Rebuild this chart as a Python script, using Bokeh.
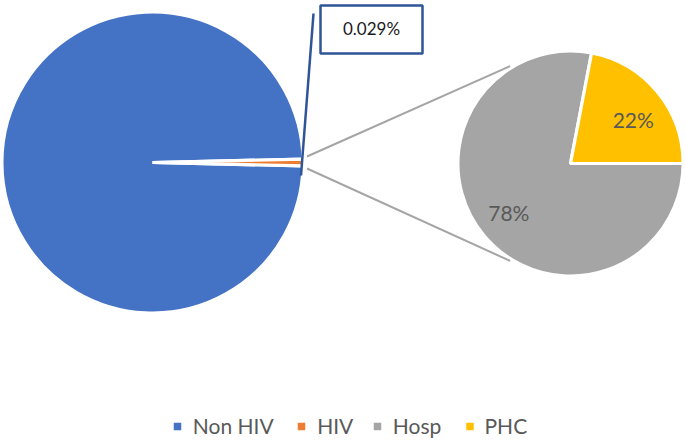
import math
from bokeh.plotting import figure
from bokeh.models import Range1d
from bokeh.core.properties import value
from bokeh.embed import file_html
from bokeh.resources import INLINE

# ---- data ----
main_categories = ["Non HIV", "HIV"]
main_values = [99.3, 0.7]          # drawn shares (HIV slice drawn very thin)
hiv_label = "0.029%"
sub_categories = ["Hosp", "PHC"]
sub_values = [78, 22]
sub_labels = ["78%", "22%"]
legend_labels = ["Non HIV", "HIV", "Hosp", "PHC"]

colors = {"Non HIV": "#4472C4", "HIV": "#ED7D31", "Hosp": "#A5A5A5", "PHC": "#FFC000"}

# ---- layout (pixel coordinates, y downwards) ----
W, H = 685, 440

def Y(sy):
    return -sy

border = 3.2
c1 = (152.0, 162.0); r1 = 149.0 + border / 2
c2 = (570.0, 163.0); r2 = 111.0 + border / 2

p = figure(width=W, height=H, output_backend="svg", toolbar_location=None,
           x_range=Range1d(0, W), y_range=Range1d(-H, 0),
           x_axis_type=None, y_axis_type=None, min_border=0)
p.grid.visible = False
p.outline_line_color = None
p.background_fill_color = "white"

# main pie: HIV slice centred on 3 o'clock
tot = sum(main_values)
hiv_ang = main_values[1] / tot * 360.0
starts = [hiv_ang / 2, -hiv_ang / 2]
ends = [360 - hiv_ang / 2, hiv_ang / 2]
for cat, s, e in zip(main_categories, starts, ends):
    p.wedge(x=c1[0], y=Y(c1[1]), radius=r1, start_angle=math.radians(s),
            end_angle=math.radians(e), direction="anticlock",
            fill_color=colors[cat], line_color="white", line_width=border)

# sub pie: PHC from 0 deg anticlockwise, then Hosp
tot2 = sum(sub_values)
phc_ang = sub_values[1] / tot2 * 360.0
sub_start = {"PHC": 0.0, "Hosp": phc_ang}
sub_end = {"PHC": phc_ang, "Hosp": 360.0}
for cat in sub_categories:
    p.wedge(x=c2[0], y=Y(c2[1]), radius=r2, start_angle=math.radians(sub_start[cat]),
            end_angle=math.radians(sub_end[cat]), direction="anticlock",
            fill_color=colors[cat], line_color="white", line_width=border)

# connector lines
conn_start_dx, conn_start_dy = 154.5, 6.0
for sign in (1, -1):
    a = math.radians(121.8 * sign)
    xs = [c1[0] + conn_start_dx, c2[0] + (r2 + 2) * math.cos(a)]
    ys = [c1[1] - sign * conn_start_dy, c2[1] - (r2 + 2) * math.sin(a)]
    p.line(x=xs, y=[Y(v) for v in ys], line_color="#A5A5A5", line_width=2)

# sub pie labels
label_pos = {"Hosp": (218.5, 0.70), "PHC": (35.0, 0.68)}
for cat, lab in zip(sub_categories, sub_labels):
    ang, fr = label_pos[cat]
    a = math.radians(ang)
    p.text(x=[c2[0] + fr * r2 * math.cos(a)], y=[Y(c2[1] - fr * r2 * math.sin(a))],
           text=[lab], text_align="center", text_baseline="middle",
           text_font=value("Lato"), text_font_size="21px", text_color="#595959")

# HIV data label box with leader line
p.line(x=[313, 300.5], y=[Y(13), Y(175)], line_color="#2F5597", line_width=2.5)
bx, by, bw, bh = 371.0, 29.0, 102.0, 48.0
p.rect(x=[bx], y=[Y(by)], width=bw, height=bh, fill_color="white",
       line_color="#2F5597", line_width=2.5)
p.text(x=[bx], y=[Y(by - 1)], text=[hiv_label], text_align="center",
       text_baseline="middle", text_font=value("Lato"), text_font_size="17px",
       text_color="#1a1a1a")

# legend
sq_x = [177.0, 301.0, 377.0, 469.5]
tx_x = [192.3, 316.7, 392.3, 484.0]
ly = 426.0
for lab, sx, tx in zip(legend_labels, sq_x, tx_x):
    p.rect(x=[sx], y=[Y(ly)], width=7.5, height=7.5, fill_color=colors[lab],
           line_color=None)
    p.text(x=[tx], y=[Y(ly - 1.5)], text=[lab], text_align="left", text_baseline="middle",
           text_font=value("Lato"), text_font_size="21px", text_color="#595959")

open("out.html", "w").write(file_html(p, INLINE))
